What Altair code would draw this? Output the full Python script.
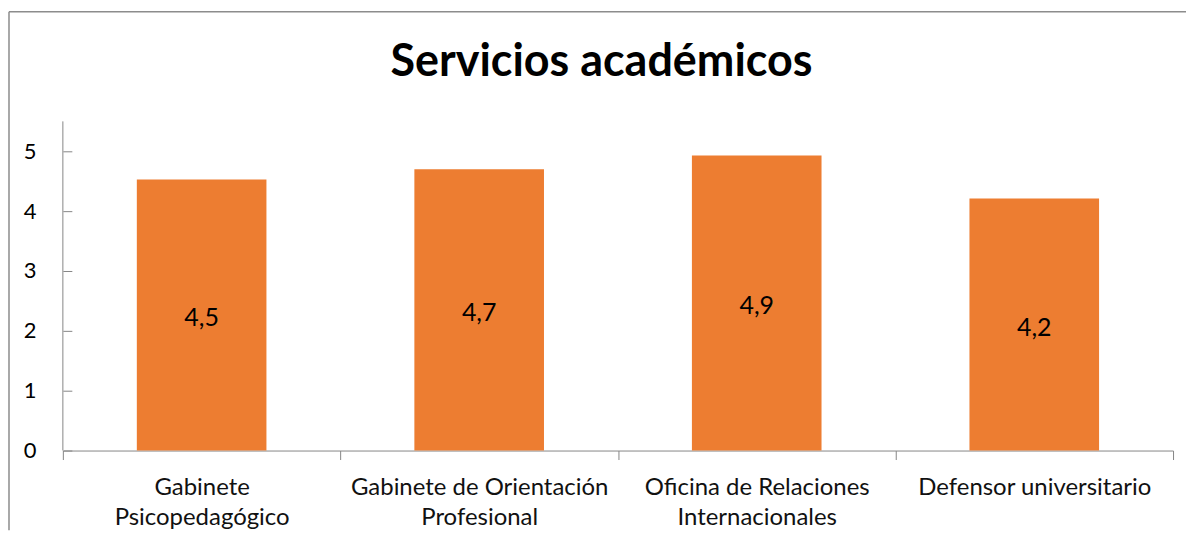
import altair as alt
import pandas as pd

TITLE = "Servicios académicos"
categories = [
    "Gabinete Psicopedagógico",
    "Gabinete de Orientación Profesional",
    "Oficina de Relaciones Internacionales",
    "Defensor universitario",
]
axis_labels = [
    "Gabinete\nPsicopedagógico",
    "Gabinete de Orientación\nProfesional",
    "Oficina de Relaciones\nInternacionales",
    "Defensor universitario",
]
values = [4.53, 4.70, 4.93, 4.21]
y_ticks = [0, 1, 2, 3, 4, 5]

df = pd.DataFrame({"cat": categories, "value": values, "lab": axis_labels})

FONT = "Lato"
ORANGE = "#ED7D31"
AXIS_GRAY = "#868686"
BORDER_GRAY = "#8C8C8C"
W, H = 1113, 330

label_map = "{" + ", ".join(f"'{c}': '{l}'".replace("\n", "\\n") for c, l in zip(categories, axis_labels)) + "}"

x_enc = alt.X(
    "cat:N",
    sort=categories,
    title=None,
    scale=alt.Scale(paddingInner=0, paddingOuter=0),
    axis=alt.Axis(
        labelAngle=0,
        tickBand="extent",
        tickSize=9,
        tickColor=AXIS_GRAY,
        domainColor=AXIS_GRAY,
        labelFont=FONT,
        labelFontSize=24,
        labelColor="#111111",
        labelPadding=16,
        labelLineHeight=30,
        labelLimit=0,
        labelExpr=f"isValid({label_map}[datum.label]) ? split({label_map}[datum.label], '\\n') : ''",
    ),
)

y_scale = alt.Scale(domain=[0, 5.5], nice=False)

bars = alt.Chart(df).mark_bar(color=ORANGE, width=alt.RelativeBandSize(0.467)).encode(
    x=x_enc,
    y=alt.Y(
        "value:Q",
        scale=y_scale,
        title=None,
        axis=alt.Axis(
            values=y_ticks,
            format="d",
            domain=False,
            grid=False,
            offset=-9,
            tickSize=9,
            tickColor=AXIS_GRAY,
            labelFont=FONT,
            labelFontSize=22,
            labelColor="#000000",
            labelPadding=27,
        ),
    ),
)

texts = alt.Chart(df).transform_calculate(
    mid="datum.value / 2",
    txt="replace(format(datum.value, '.1f'), '.', ',')",
).mark_text(font=FONT, fontSize=25, color="#000000", baseline="middle", dy=3).encode(
    x=alt.X("cat:N", sort=categories),
    y=alt.Y("mid:Q", scale=y_scale),
    text="txt:N",
)

one = pd.DataFrame({"t": [TITLE]})

y_domain = alt.Chart(one).mark_rule(color=AXIS_GRAY, strokeWidth=1).encode(
    x=alt.value(0), y=alt.value(0), y2=alt.value(H)
)
border_left = alt.Chart(one).mark_rule(color=BORDER_GRAY, strokeWidth=1.5).encode(
    x=alt.value(-54), y=alt.value(-110), y2=alt.value(410)
)
border_top = alt.Chart(one).mark_rule(color=BORDER_GRAY, strokeWidth=1.5).encode(
    x=alt.value(-54), x2=alt.value(1126), y=alt.value(-110)
)
title = alt.Chart(one).mark_text(
    font=FONT, fontSize=45, fontWeight="bold", color="#000000", baseline="alphabetic", align="center"
).encode(x=alt.value(540), y=alt.value(-45), text="t:N")

chart = (
    alt.layer(bars, texts, y_domain, border_left, border_top, title)
    .properties(
        width=W,
        height=H,
        background="white",
        padding={"left": 0, "top": 2, "right": 0, "bottom": 0},
    )
    .configure_view(stroke=None)
)

chart.save("out.html", embed_options={"renderer": "svg", "actions": False})
